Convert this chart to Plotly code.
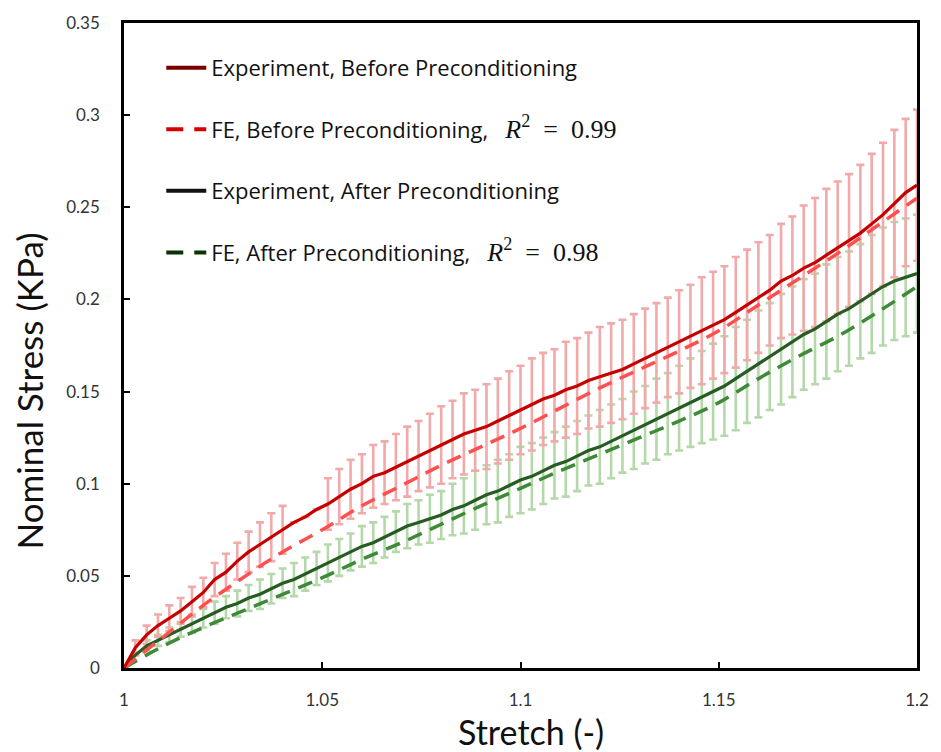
import plotly.graph_objects as go

# ---------------- data ----------------
# Experimental curves sampled every 0.2/70 in stretch
stretch_exp = [1 + k * 0.2 / 70 for k in range(71)]

exp_before = [0, 0.011, 0.018, 0.023, 0.027, 0.031, 0.036, 0.041, 0.048, 0.052,
              0.058, 0.063, 0.067, 0.071, 0.075, 0.079, 0.082, 0.086, 0.089, 0.093,
              0.097, 0.100, 0.104, 0.106, 0.109, 0.112, 0.115, 0.118, 0.121, 0.124,
              0.127, 0.129, 0.131, 0.134, 0.137, 0.140, 0.143, 0.146, 0.148, 0.151,
              0.153, 0.156, 0.158, 0.160, 0.162, 0.165, 0.168, 0.171, 0.174, 0.177,
              0.180, 0.183, 0.186, 0.189, 0.193, 0.197, 0.201, 0.205, 0.210, 0.213,
              0.217, 0.220, 0.224, 0.228, 0.232, 0.236, 0.241, 0.246, 0.252, 0.258,
              0.262]

err_before = [None, 0.004, 0.005, 0.006, 0.007, 0.007, 0.008, 0.008, 0.009, 0.010,
              0.010, 0.011, 0.012, 0.013, 0.013, None, None, None, 0.014, 0.015,
              0.016, 0.016, 0.017, 0.017, 0.018, 0.019, 0.019, 0.020, 0.021, 0.021,
              0.022, 0.022, 0.023, 0.023, 0.024, 0.024, 0.025, 0.025, 0.025, 0.026,
              0.026, 0.026, 0.027, 0.027, 0.027, 0.027, 0.027, 0.027, 0.027, 0.028,
              0.028, 0.029, 0.029, 0.029, 0.030, 0.030, 0.030, 0.030, 0.031, 0.032,
              0.034, 0.035, 0.036, 0.036, 0.036, 0.037, 0.038, 0.039, 0.040, 0.040,
              0.041]

exp_after = [0, 0.007, 0.012, 0.015, 0.018, 0.021, 0.024, 0.027, 0.030, 0.033,
             0.035, 0.038, 0.040, 0.043, 0.046, 0.048, 0.051, 0.054, 0.057, 0.060,
             0.063, 0.066, 0.068, 0.071, 0.074, 0.077, 0.079, 0.081, 0.083, 0.086,
             0.088, 0.091, 0.094, 0.096, 0.099, 0.102, 0.104, 0.107, 0.110, 0.112,
             0.115, 0.118, 0.120, 0.123, 0.126, 0.129, 0.132, 0.135, 0.138, 0.141,
             0.144, 0.147, 0.150, 0.153, 0.157, 0.161, 0.165, 0.169, 0.173, 0.177,
             0.181, 0.184, 0.188, 0.192, 0.195, 0.199, 0.203, 0.207, 0.210, 0.212,
             0.214]

err_after = [None, None, 0.003, 0.003, 0.004, 0.004, 0.005, 0.005, 0.006, 0.006,
             0.007, 0.007, 0.008, 0.008, 0.008, 0.009, 0.009, 0.009, 0.010, 0.010,
             0.010, 0.011, 0.011, 0.011, 0.011, 0.012, 0.012, 0.013, 0.013, 0.014,
             0.015, 0.016, 0.016, 0.017, 0.017, 0.018, 0.018, 0.018, 0.018, 0.019,
             0.019, 0.019, 0.020, 0.020, 0.020, 0.021, 0.021, 0.022, 0.022, 0.023,
             0.024, 0.025, 0.026, 0.027, 0.028, 0.028, 0.029, 0.029, 0.030, 0.030,
             0.030, 0.030, 0.031, 0.031, 0.031, 0.031, 0.032, 0.032, 0.032, 0.032,
             0.032]

# FE curves
stretch_fe = [1.00, 1.01, 1.02, 1.03, 1.04, 1.05, 1.06, 1.07, 1.08, 1.09, 1.10,
              1.11, 1.12, 1.13, 1.14, 1.15, 1.16, 1.17, 1.18, 1.19, 1.20]
fe_before = [0, 0.017, 0.034, 0.049, 0.063, 0.075, 0.088, 0.099, 0.110, 0.120, 0.130,
             0.141, 0.152, 0.162, 0.172, 0.183, 0.197, 0.211, 0.225, 0.240, 0.255]
fe_after = [0, 0.012, 0.022, 0.031, 0.040, 0.049, 0.059, 0.068, 0.078, 0.088, 0.0975,
            0.107, 0.116, 0.125, 0.134, 0.144, 0.157, 0.169, 0.180, 0.193, 0.207]

x_ticks = [1, 1.05, 1.1, 1.15, 1.2]
x_ticklabels = ["1", "1.05", "1.1", "1.15", "1.2"]
y_ticks = [0, 0.05, 0.1, 0.15, 0.2, 0.25, 0.3, 0.35]
y_ticklabels = ["0", "0.05", "0.1", "0.15", "0.2", "0.25", "0.3", "0.35"]

NB = "\u00a0"
R2 = ("<span style='font-family:Liberation Serif;font-size:26px'><i>R</i><sup>2</sup>"
      + NB * 2 + "=" + NB * 2 + "{}</span>")
names = ["Experiment, Before Preconditioning",
         "FE, Before Preconditioning," + NB * 3 + R2.format("0.99"),
         "Experiment, After Preconditioning",
         "FE, After Preconditioning," + NB * 3 + R2.format("0.98")]

# ---------------- style ----------------
RED = "#c40000"
RED_FE = "#ff5050"
RED_BAR = "#f2a9a9"
GREEN = "#265c22"
GREEN_FE = "#3f8a38"
GREEN_BAR = "#b5d8aa"
LEG_COLORS = ["#7a0000", "#d40000", "#111111", "#0a3300"]
LEG_DASH = ["solid", "17px,11px", "solid", "17px,11px"]
FONT = "Lato"
LEG_FONT = "Open Sans"

fig = go.Figure()

# error bars (drawn first, underneath lines)
fig.add_trace(go.Scatter(
    x=stretch_exp, y=exp_after, mode="markers", marker=dict(size=0.1, opacity=0),
    error_y=dict(type="data", array=err_after, visible=True, color=GREEN_BAR,
                 thickness=2.6, width=4),
    showlegend=False, hoverinfo="skip"))
fig.add_trace(go.Scatter(
    x=stretch_exp, y=exp_before, mode="markers", marker=dict(size=0.1, opacity=0),
    error_y=dict(type="data", array=err_before, visible=True, color=RED_BAR,
                 thickness=2.6, width=4),
    showlegend=False, hoverinfo="skip"))

# lines
fig.add_trace(go.Scatter(x=stretch_fe, y=fe_after, mode="lines", showlegend=False,
                         line=dict(color=GREEN_FE, width=3.5, dash="15px,9px", shape="spline")))
fig.add_trace(go.Scatter(x=stretch_exp, y=exp_after, mode="lines", showlegend=False,
                         line=dict(color=GREEN, width=3.2)))
fig.add_trace(go.Scatter(x=stretch_fe, y=fe_before, mode="lines", showlegend=False,
                         line=dict(color=RED_FE, width=3.5, dash="15px,9px", shape="spline")))
fig.add_trace(go.Scatter(x=stretch_exp, y=exp_before, mode="lines", showlegend=False,
                         line=dict(color=RED, width=3.2)))

# legend entries (as in the original, legend keys use darker colours)
for i in range(4):
    fig.add_trace(go.Scatter(x=[None], y=[None], mode="lines", name=names[i],
                             line=dict(color=LEG_COLORS[i], width=4, dash=LEG_DASH[i]),
                             legendgroup="g%d" % i, legendrank=i + 1))

fig.update_layout(
    width=941, height=752,
    margin=dict(l=124, r=15, t=22, b=84),
    paper_bgcolor="white", plot_bgcolor="white",
    font=dict(family=FONT, color="#222"),
    showlegend=True,
    legend=dict(x=0.047, y=0.963, xanchor="left", yanchor="top",
                bgcolor="rgba(0,0,0,0)", borderwidth=0,
                font=dict(family=LEG_FONT, size=22, color="#111"),
                tracegroupgap=30, traceorder="grouped", itemwidth=40),
    xaxis=dict(range=[1, 1.2], tickvals=x_ticks, ticktext=x_ticklabels,
               showgrid=False, zeroline=False, showline=True, linecolor="black",
               linewidth=2.5, mirror=True, ticks="inside", ticklen=6, tickwidth=1.5,
               tickcolor="black", tickfont=dict(family=FONT, size=17, color="#333"),
               ticklabelstandoff=15),
    yaxis=dict(range=[0, 0.35], tickvals=y_ticks, ticktext=y_ticklabels,
               showgrid=False, zeroline=False, showline=True, linecolor="black",
               linewidth=2.5, mirror=True, ticks="inside", ticklen=6, tickwidth=1.5,
               tickcolor="black", tickfont=dict(family=FONT, size=17, color="#333"),
               ticklabelstandoff=18),
    annotations=[
        dict(text="Stretch (-)", xref="paper", yref="paper", x=0.5137, y=-0.098,
             xanchor="center", yanchor="middle", showarrow=False,
             font=dict(family=FONT, size=34, color="#111")),
        dict(text="Nominal Stress (KPa)", xref="paper", yref="paper", x=-0.12, y=0.43,
             xanchor="center", yanchor="middle", showarrow=False, textangle=-90,
             font=dict(family=FONT, size=35, color="#111")),
    ],
)

fig.write_html("out.html",
               config={"displayModeBar": False},
               post_script="document.body.style.margin='0px';"
                           "document.body.style.padding='0px';"
                           "document.body.style.overflow='hidden';")
